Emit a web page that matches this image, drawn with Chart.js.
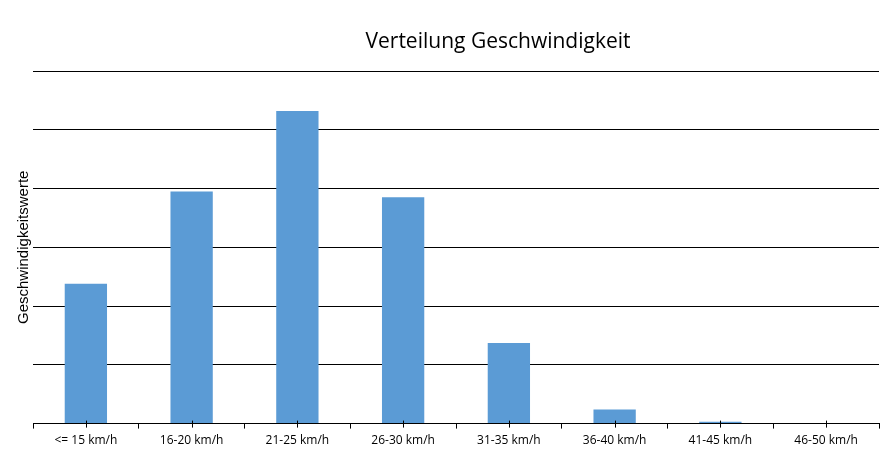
<!DOCTYPE html>
<html>
<head>
<meta charset="utf-8">
<script src="https://cdn.jsdelivr.net/npm/chart.js@4"></script>
<style>
  html, body { margin: 0; padding: 0; background: #fff; }
  #wrap { position: relative; width: 880px; height: 456px; }
  #title {
    position: absolute; top: 26px; left: 498px; transform: translateX(-50%);
    font-family: "Open Sans", sans-serif; font-size: 21px; color: #000; white-space: nowrap;
  }
</style>
</head>
<body>
<div id="wrap">
  <canvas id="chart" width="880" height="456"></canvas>
  <div id="title">Verteilung Geschwindigkeit</div>
</div>
<script>
  // Data
  const categories = ["<= 15 km/h", "16-20 km/h", "21-25 km/h", "26-30 km/h", "31-35 km/h", "36-40 km/h", "41-45 km/h", "46-50 km/h"];
  const values = [2.38, 3.95, 5.32, 3.85, 1.37, 0.24, 0.03, 0];
  const yMax = 6;

  // small ticks under each bar centre (boundary ticks come from the grid)
  const centreTicks = {
    id: "centreTicks",
    afterDraw(chart) {
      const x = chart.scales.x;
      const ctx = chart.ctx;
      ctx.save();
      ctx.strokeStyle = "#000";
      ctx.lineWidth = 1;
      categories.forEach((c, i) => {
        const px = Math.round(x.getPixelForValue(i)) + 0.5;
        ctx.beginPath();
        ctx.moveTo(px, x.top - 3);
        ctx.lineTo(px, x.top + 4);
        ctx.stroke();
      });
      ctx.restore();
    }
  };

  new Chart(document.getElementById("chart"), {
    type: "bar",
    data: {
      labels: categories,
      datasets: [{
        data: values,
        backgroundColor: "#5B9BD5",
        borderWidth: 0,
        barPercentage: 0.4,
        categoryPercentage: 1
      }]
    },
    options: {
      responsive: false,
      animation: false,
      layout: { padding: { top: 71, right: 1, left: 15, bottom: 3 } },
      plugins: { legend: { display: false }, tooltip: { enabled: false }, title: { display: false } },
      scales: {
        x: {
          grid: { offset: true, drawOnChartArea: false, color: "#000", tickLength: 5 },
          border: { color: "#000", width: 1 },
          ticks: { color: "#000", font: { family: "Open Sans", size: 12 }, padding: 5, maxRotation: 0 }
        },
        y: {
          min: 0, max: yMax,
          ticks: { display: false, stepSize: 1 },
          grid: { color: "#000", drawTicks: false },
          border: { display: false },
          title: {
            display: true, text: "Geschwindigkeitswerte", color: "#000",
            font: { family: "Liberation Sans", size: 15 }, padding: { top: 0, bottom: 0 }
          }
        }
      }
    },
    plugins: [centreTicks]
  });
</script>
</body>
</html>
